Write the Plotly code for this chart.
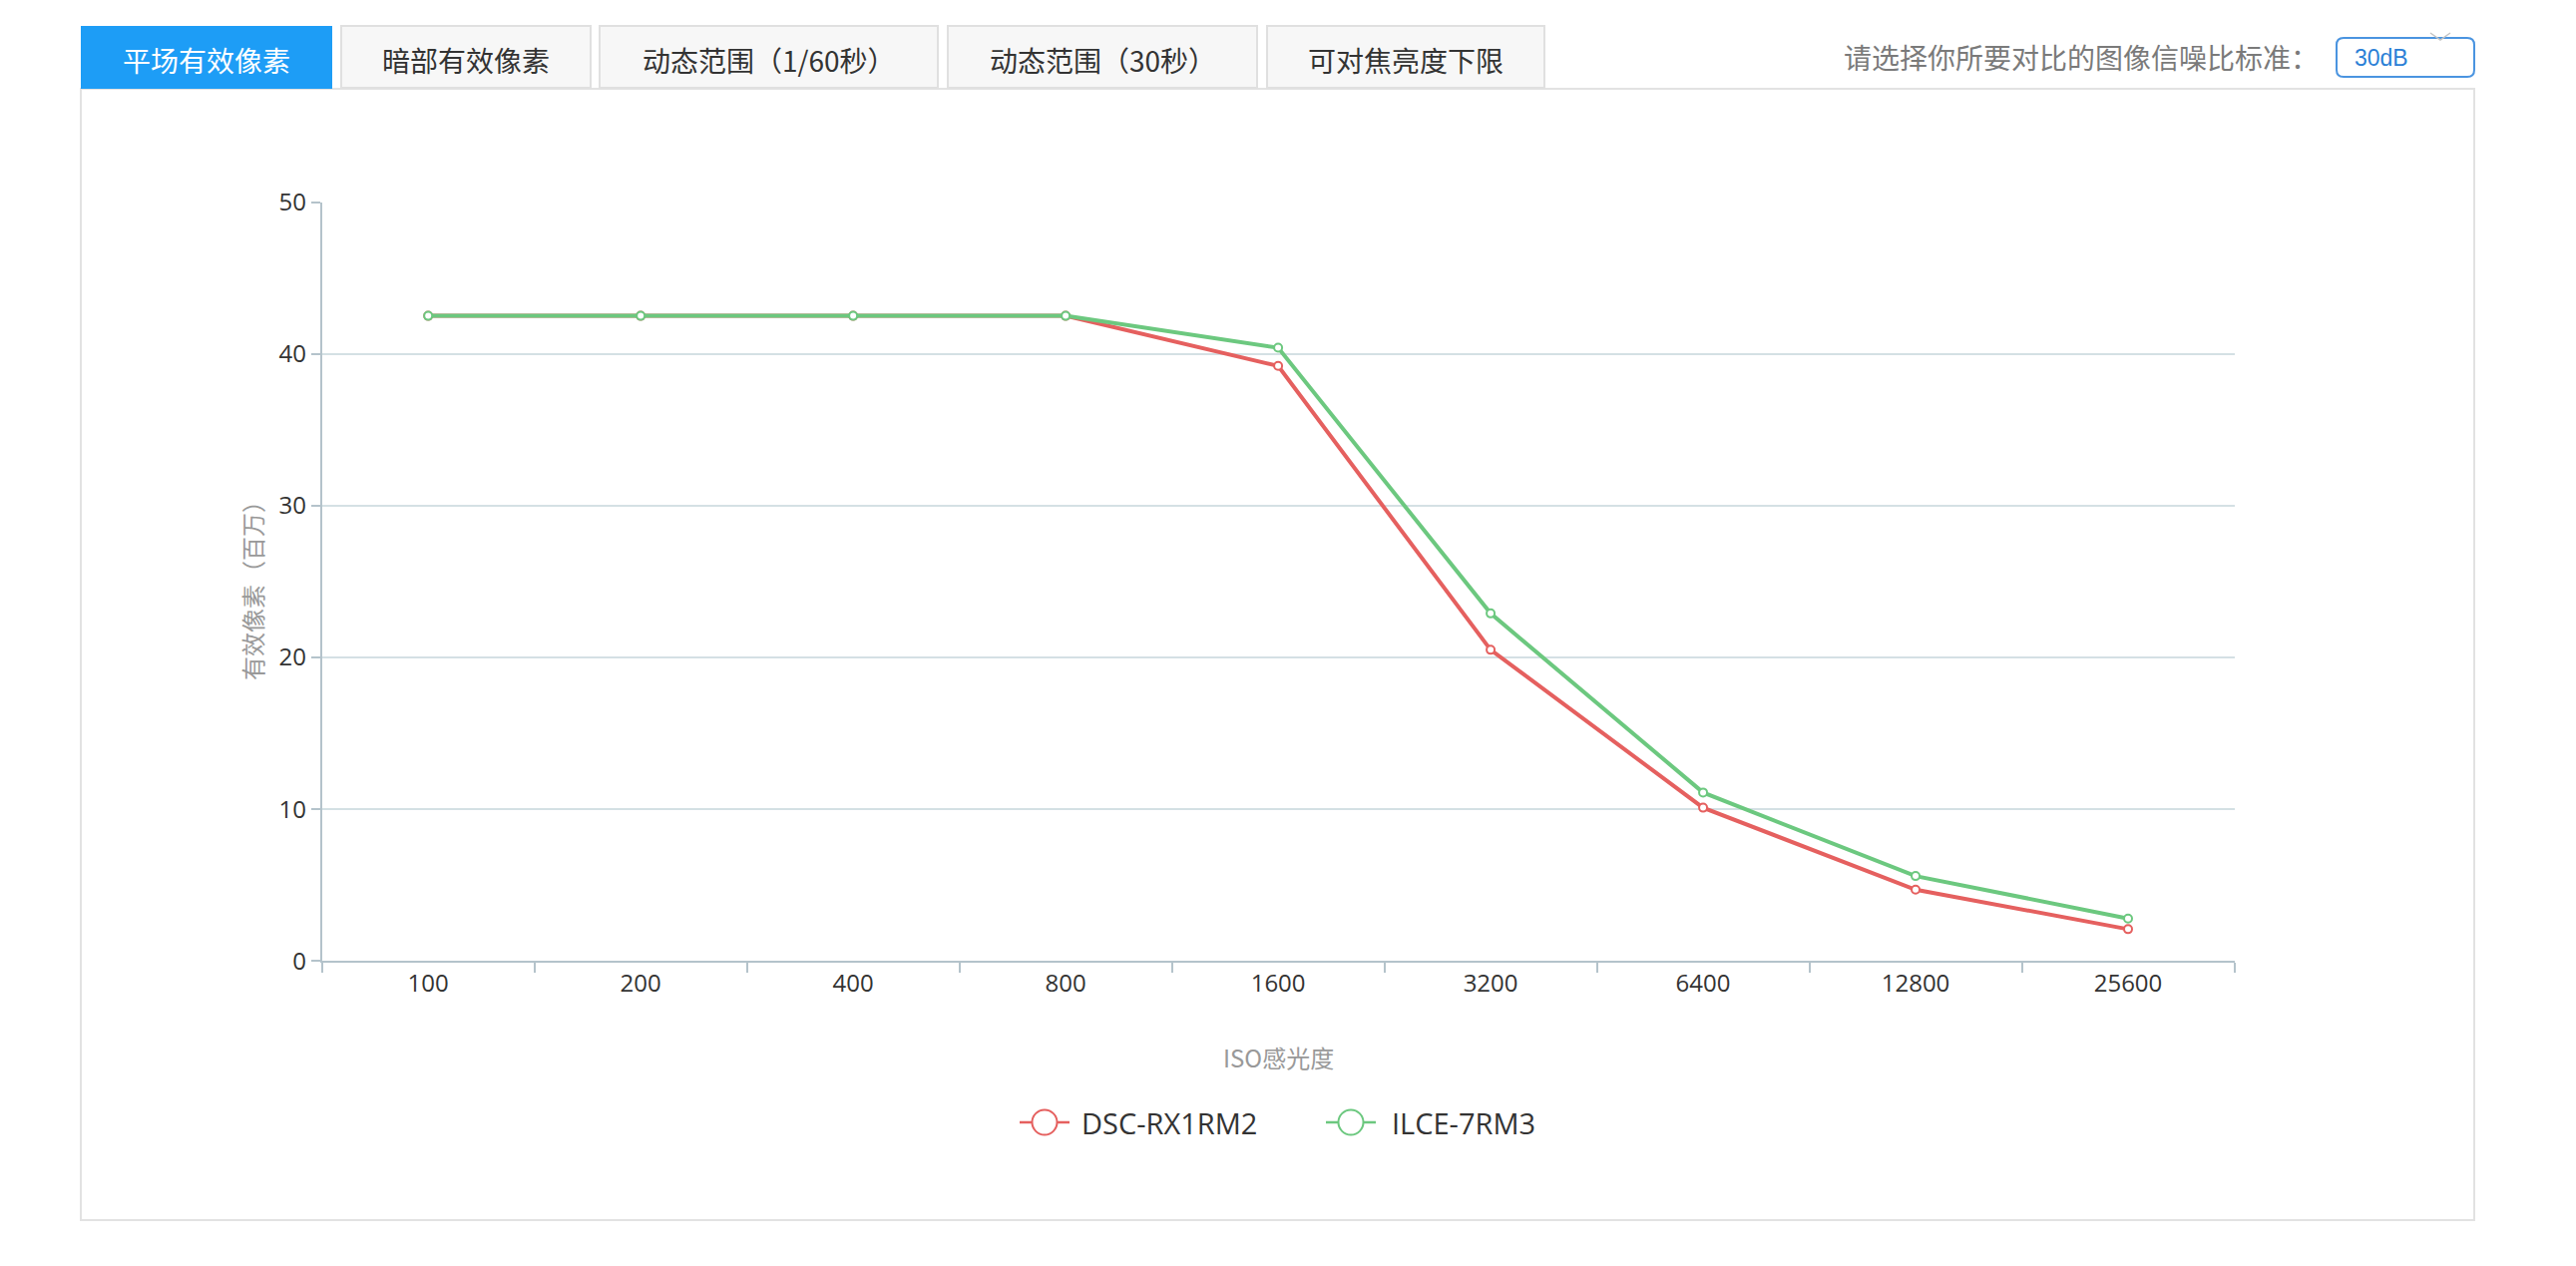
import plotly.graph_objects as go

W, H = 2582, 1269

iso_labels = ["100", "200", "400", "800", "1600", "3200", "6400", "12800", "25600"]
dsc_rx1rm2 = [42.5, 42.5, 42.5, 42.5, 39.2, 20.5, 10.1, 4.7, 2.1]
ilce_7rm3 = [42.5, 42.5, 42.5, 42.5, 40.4, 22.9, 11.1, 5.6, 2.8]
series_names = ["DSC-RX1RM2", "ILCE-7RM3"]
series_colors = ["#e5605f", "#6cc87f"]
y_ticks = [0, 10, 20, 30, 40, 50]
tab_labels = ["平场有效像素", "暗部有效像素", "动态范围（1/60秒）", "动态范围（30秒）", "可对焦亮度下限"]
snr_prompt = "请选择你所要对比的图像信噪比标准："
snr_value = "30dB"
x_title = "ISO感光度"
y_title = "有效像素（百万）"

FONT = "Open Sans, Noto Sans CJK SC, sans-serif"
CJK = "Noto Sans CJK SC, Open Sans, sans-serif"


def px(x):
    return x / W


def py(y):
    return 1 - y / H


fig = go.Figure()
for name, vals, col in zip(series_names, [dsc_rx1rm2, ilce_7rm3], series_colors):
    fig.add_trace(go.Scatter(
        x=iso_labels, y=vals, name=name, mode="lines+markers",
        line=dict(color=col, width=4),
        marker=dict(symbol="circle", size=8, color="white", line=dict(color=col, width=2)),
        showlegend=False,
    ))

shapes = []
annotations = []

# chart box
shapes.append(dict(type="rect", xref="paper", yref="paper",
                   x0=px(81), x1=px(2480), y0=py(1223), y1=py(89),
                   line=dict(color="#e2e2e2", width=2), fillcolor="rgba(0,0,0,0)", layer="below"))

# tabs
tab_x = [(81, 333), (342, 592), (601, 940), (950, 1260), (1270, 1548)]
for i, ((x0, x1), lab) in enumerate(zip(tab_x, tab_labels)):
    active = i == 0
    shapes.append(dict(type="rect", xref="paper", yref="paper",
                       x0=px(x0), x1=px(x1), y0=py(89 if active else 88), y1=py(26),
                       line=dict(color="#1d9df6" if active else "#e0e0e0", width=2 if not active else 0),
                       fillcolor="#1d9df6" if active else "#f7f7f7"))
    annotations.append(dict(xref="paper", yref="paper", x=px((x0 + x1) / 2), y=py(60),
                            text=lab, showarrow=False, xanchor="center", yanchor="middle",
                            font=dict(family=CJK, size=28, color="white" if active else "#333333")))

# SNR selector
annotations.append(dict(xref="paper", yref="paper", x=px(2326), y=py(57), text=snr_prompt,
                        showarrow=False, xanchor="right", yanchor="middle",
                        font=dict(family=CJK, size=28, color="#7a7a7a")))
x0s, x1s, y0s, y1s, r = 2342, 2480, 38, 77, 7
path = (f"M {px(x0s + r)},{py(y0s)} L {px(x1s - r)},{py(y0s)} "
        f"Q {px(x1s)},{py(y0s)} {px(x1s)},{py(y0s + r)} L {px(x1s)},{py(y1s - r)} "
        f"Q {px(x1s)},{py(y1s)} {px(x1s - r)},{py(y1s)} L {px(x0s + r)},{py(y1s)} "
        f"Q {px(x0s)},{py(y1s)} {px(x0s)},{py(y1s - r)} L {px(x0s)},{py(y0s + r)} "
        f"Q {px(x0s)},{py(y0s)} {px(x0s + r)},{py(y0s)} Z")
shapes.append(dict(type="path", xref="paper", yref="paper", path=path,
                   line=dict(color="#4a94e0", width=2), fillcolor="white"))
annotations.append(dict(xref="paper", yref="paper", x=px(2358), y=py(58), text=snr_value,
                        showarrow=False, xanchor="left", yanchor="middle",
                        font=dict(family="Liberation Sans, Arial, sans-serif", size=23, color="#2b7fd6")))
shapes.append(dict(type="path", xref="paper", yref="paper",
                   path=f"M {px(2436)},{py(33)} L {px(2446)},{py(40)} L {px(2456)},{py(33)}",
                   line=dict(color="#c4c4c4", width=1.5)))

# axis titles
annotations.append(dict(xref="paper", yref="paper", x=px(1281), y=py(1059), text=x_title,
                        showarrow=False, xanchor="center", yanchor="middle",
                        font=dict(family=CJK, size=24, color="#999999")))
annotations.append(dict(xref="paper", yref="paper", x=px(252), y=py(586), text=y_title,
                        showarrow=False, xanchor="center", yanchor="middle", textangle=-90,
                        font=dict(family=CJK, size=24, color="#999999")))

# legend (manual)
legend_pos = [(1047, 1082), (1354, 1393)]
for (cx, tx), name, col in zip(legend_pos, series_names, series_colors):
    cy = 1125
    shapes.append(dict(type="line", xref="paper", yref="paper",
                       x0=px(cx - 25), x1=px(cx + 25), y0=py(cy), y1=py(cy),
                       line=dict(color=col, width=2.5)))
    shapes.append(dict(type="circle", xref="paper", yref="paper",
                       x0=px(cx - 12.5), x1=px(cx + 12.5), y0=py(cy + 12.5), y1=py(cy - 12.5),
                       line=dict(color=col, width=2), fillcolor="white"))
    annotations.append(dict(xref="paper", yref="paper", x=px(tx), y=py(cy), text=name,
                            showarrow=False, xanchor="left", yanchor="middle",
                            font=dict(family=FONT, size=29, color="#333333")))

fig.update_layout(
    autosize=True,
    margin=dict(l=0, r=0, t=0, b=0, autoexpand=False),
    paper_bgcolor="white", plot_bgcolor="white",
    showlegend=False,
    shapes=shapes, annotations=annotations,
    xaxis=dict(
        domain=[px(322.7), px(2239.5)],
        type="category", range=[-0.5, 8.5],
        tickson="boundaries", ticks="outside", ticklen=10, tickwidth=1.5, tickcolor="#b4c3cb",
        showline=True, linecolor="#b4c3cb", linewidth=2,
        showgrid=False, zeroline=False, automargin=False,
        tickfont=dict(family=FONT, size=24, color="#333333"),
        fixedrange=True,
    ),
    yaxis=dict(
        domain=[py(963.3), py(202.5)],
        range=[0, 50], tickvals=y_ticks,
        ticks="outside", ticklen=9, tickwidth=1.5, tickcolor="#b4c3cb",
        showline=True, linecolor="#b4c3cb", linewidth=2,
        showgrid=True, gridcolor="#d4e0e4", gridwidth=1.5,
        zeroline=False, automargin=False,
        tickfont=dict(family=FONT, size=24, color="#333333"),
        fixedrange=True,
    ),
)

post = ("document.documentElement.style.margin='0';document.documentElement.style.padding='0';"
        "document.documentElement.style.overflow='hidden';"
        "document.body.style.margin='0';document.body.style.padding='0';document.body.style.overflow='hidden';"
        "var gd=document.getElementById('{plot_id}');gd.style.width='100vw';gd.style.height='100vh';"
        "Plotly.Plots.resize(gd);")

fig.write_html("out.html", config={"displayModeBar": False, "responsive": True},
               default_width="100vw", default_height="100vh", post_script=post)
